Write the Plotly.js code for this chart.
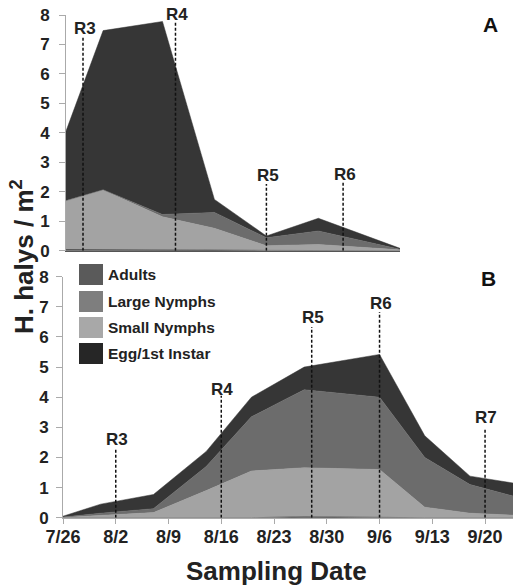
<!DOCTYPE html>
<html>
<head>
<meta charset="utf-8">
<script src="https://cdn.plot.ly/plotly-3.0.1.min.js"></script>
<style>html,body{margin:0;padding:0;background:#fff;}#chart{width:513px;height:588px;}</style>
</head>
<body>
<div id="chart"></div>
<script>
// ---------- Data ----------
// Panel A
var datesA = ['2013-07-26','2013-07-31','2013-08-08','2013-08-15','2013-08-22','2013-08-29','2013-09-09'];
var eggA    = [0.04, 0.04, 0.03, 0.02, 0.01, 0.01, 0.00];
var smallA  = [1.65, 2.02, 1.12, 0.74, 0.16, 0.20, 0.03];
var largeA  = [0.01, 0.01, 0.08, 0.54, 0.27, 0.46, 0.02];
var adultsA = [2.36, 5.40, 6.55, 0.44, 0.06, 0.43, 0.03];
// Panel B
var datesB = ['2013-07-26','2013-07-31','2013-08-07','2013-08-14','2013-08-20','2013-08-27','2013-09-06','2013-09-12','2013-09-18','2013-09-24'];
var eggB    = [0.00, 0.00, 0.00, 0.00, 0.00, 0.03, 0.00, 0.00, 0.00, 0.00];
var smallB  = [0.01, 0.08, 0.17, 0.90, 1.55, 1.63, 1.60, 0.35, 0.15, 0.08];
var largeB  = [0.01, 0.07, 0.13, 0.80, 1.80, 2.59, 2.40, 1.65, 0.95, 0.62];
var adultsB = [0.03, 0.30, 0.47, 0.50, 0.65, 0.75, 1.42, 0.72, 0.28, 0.44];
// Series names and ticks
var seriesNames = ['Egg/1st Instar','Small Nymphs','Large Nymphs','Adults'];
var tickDatesB = ['2013-07-26','2013-08-02','2013-08-09','2013-08-16','2013-08-23','2013-08-30','2013-09-06','2013-09-13','2013-09-20'];
var tickLabelsB = ['7/26','8/2','8/9','8/16','8/23','8/30','9/6','9/13','9/20'];
// Reproductive stage markers
var stageLabelsA = ['R3','R4','R5','R6'];
var stageDatesA  = ['2013-07-28 07:00','2013-08-09 18:00','2013-08-22 00:00','2013-09-01 08:00'];
var stageTopA    = [7.25, 7.79, 2.26, 2.33];
var stageLabelYA = [7.53, 7.98, 2.54, 2.60];
var stageLabelsB = ['R3','R4','R5','R6','R7'];
var stageDatesB  = ['2013-08-02','2013-08-16','2013-08-28','2013-09-06','2013-09-20'];
var stageTopB    = [2.28, 4.05, 6.33, 6.83, 2.98];
var stageLabelYB = [2.58, 4.27, 6.63, 7.12, 3.31];

// ---------- Styles ----------
var FONT = 'Liberation Sans, Arial, Helvetica, sans-serif';
var areaColors = ['#161616','#a3a3a3','#6c6c6c','#363636'];
var legendColors = ['#5a5a5a','#7e7e7e','#a8a8a8','#262626']; // Adults, Large, Small, Egg (top to bottom)
var W = 513, H = 588;
function px(x){return x/W;}
function py(y){return 1 - y/H;}

var traces = [];
var seriesA = [eggA, smallA, largeA, adultsA];
var seriesB = [eggB, smallB, largeB, adultsB];
for (var i=0;i<4;i++){
  traces.push({x:datesA, y:seriesA[i], name:seriesNames[i], type:'scatter', mode:'lines',
    stackgroup:'A', xaxis:'x', yaxis:'y', fillcolor:areaColors[i],
    line:{color:areaColors[i], width:0.5}, showlegend:false, hoverinfo:'skip'});
}
for (var j=0;j<4;j++){
  traces.push({x:datesB, y:seriesB[j], name:seriesNames[j], type:'scatter', mode:'lines',
    stackgroup:'B', xaxis:'x2', yaxis:'y2', fillcolor:areaColors[j],
    line:{color:areaColors[j], width:0.5}, showlegend:false, hoverinfo:'skip'});
}

var shapes = [], annotations = [];
var dashStyle = {color:'#111', width:1.5, dash:'3px,2px'};
stageLabelsA.forEach(function(lbl,k){
  shapes.push({type:'line', xref:'x', yref:'y', x0:stageDatesA[k], x1:stageDatesA[k], y0:0, y1:stageTopA[k], line:dashStyle, layer:'above'});
  annotations.push({xref:'x', yref:'y', x:stageDatesA[k], y:stageLabelYA[k], text:lbl, showarrow:false,
    xanchor:'center', yanchor:'middle', xshift:2, yshift:(stageLabelYA[k] > 7.9 ? 1 : 0),
    font:{family:FONT, size:17, color:'#222', weight:'bold'}});
});
stageLabelsB.forEach(function(lbl,k){
  shapes.push({type:'line', xref:'x2', yref:'y2', x0:stageDatesB[k], x1:stageDatesB[k], y0:0, y1:stageTopB[k], line:dashStyle, layer:'above'});
  annotations.push({xref:'x2', yref:'y2', x:stageDatesB[k], y:stageLabelYB[k], text:lbl, showarrow:false,
    xanchor:'center', yanchor:'middle', xshift:1, font:{family:FONT, size:17, color:'#222', weight:'bold'}});
});

// Legend (custom)
var legendNames = ['Adults','Large Nymphs','Small Nymphs','Egg/1st Instar'];
var legTop = [264, 291, 317, 343];
legendNames.forEach(function(n,k){
  shapes.push({type:'rect', xref:'paper', yref:'paper', x0:px(79), x1:px(103), y0:py(legTop[k]), y1:py(legTop[k]+21),
    fillcolor:legendColors[k], line:{width:0}, layer:'above'});
  annotations.push({xref:'paper', yref:'paper', x:px(106), y:py(legTop[k]+10.5), text:n, showarrow:false,
    xanchor:'left', yanchor:'middle', font:{family:FONT, size:15.5, color:'#222', weight:'bold'}});
});

// Panel letters and titles
annotations.push({xref:'paper', yref:'paper', x:px(490), y:py(25), text:'A', showarrow:false, xanchor:'center', yanchor:'middle',
  font:{family:FONT, size:21, color:'#111', weight:'bold'}});
annotations.push({xref:'paper', yref:'paper', x:px(488), y:py(278), text:'B', showarrow:false, xanchor:'center', yanchor:'middle',
  font:{family:FONT, size:21, color:'#111', weight:'bold'}});
annotations.push({xref:'paper', yref:'paper', x:px(276), y:py(571), text:'Sampling Date', showarrow:false, xanchor:'center', yanchor:'middle',
  font:{family:FONT, size:26, color:'#222', weight:'bold'}});
annotations.push({xref:'paper', yref:'paper', x:px(22), y:py(257), text:'H. halys / m<sup>2</sup>', textangle:-90, showarrow:false,
  xanchor:'center', yanchor:'middle', font:{family:FONT, size:26, color:'#222', weight:'bold'}});

var yTickFont = {family:FONT, size:17, color:'#222', weight:'bold'};
var layout = {
  width:W, height:H, margin:{l:0,r:0,t:0,b:0}, paper_bgcolor:'#fff', plot_bgcolor:'rgba(0,0,0,0)',
  showlegend:false,
  xaxis:{type:'date', domain:[px(66), px(400)], range:['2013-07-26','2013-09-09'], anchor:'y',
    showline:true, linecolor:'#555', linewidth:1, ticks:'', showticklabels:false, showgrid:false, zeroline:false, fixedrange:true},
  yaxis:{domain:[py(250.7), py(15)], range:[0,8], dtick:1, anchor:'x', showline:true, linecolor:'#aaa', linewidth:1,
    ticks:'outside', ticklen:6, tickcolor:'#aaa', tickfont:yTickFont, ticklabelstandoff:6, showgrid:false, zeroline:false},
  xaxis2:{type:'date', domain:[px(63), 1], range:['2013-07-26','2013-09-23 17:00'], anchor:'y2',
    tickmode:'array', tickvals:tickDatesB, ticktext:tickLabelsB, showline:true, linecolor:'#aaa', linewidth:1,
    ticks:'outside', ticklen:5, tickcolor:'#aaa', tickfont:{family:FONT, size:18, color:'#222', weight:'bold'},
    ticklabelstandoff:-2, showgrid:false, zeroline:false},
  yaxis2:{domain:[py(517.7), py(276.7)], range:[0,8], dtick:1, anchor:'x2', showline:true, linecolor:'#aaa', linewidth:1,
    ticks:'outside', ticklen:6, tickcolor:'#aaa', tickfont:yTickFont, ticklabelstandoff:4, showgrid:false, zeroline:false},
  shapes:shapes, annotations:annotations
};
Plotly.newPlot('chart', traces, layout, {displayModeBar:false, staticPlot:true});
</script>
</body>
</html>
